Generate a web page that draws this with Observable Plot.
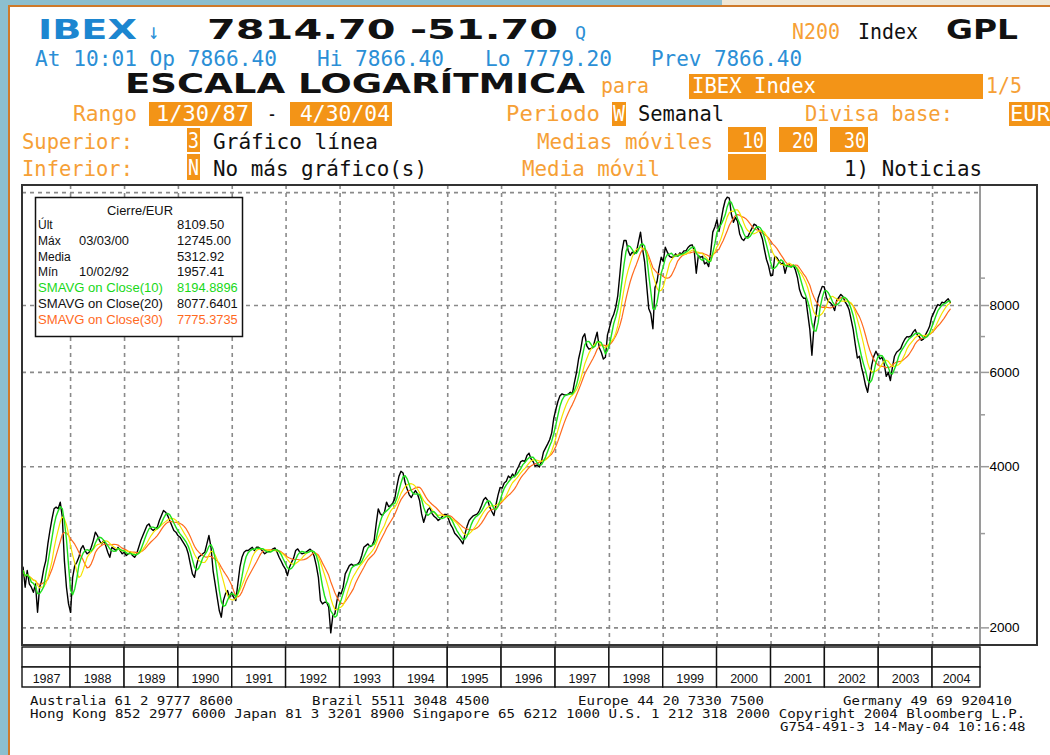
<!DOCTYPE html>
<html><head><meta charset="utf-8">
<script src="https://cdn.jsdelivr.net/npm/d3@7"></script>
<script src="https://cdn.jsdelivr.net/npm/@observablehq/plot@0.6"></script>
<style>
html,body{margin:0;padding:0;background:#fff;}
#page{position:relative;width:1050px;height:755px;overflow:hidden;background:#fff;}
.abs{position:absolute;}
</style></head>
<body><div id="page">
<div class="abs" style="left:0;top:0;width:722px;height:6px;background:#8cbfcf"></div>
<div class="abs" style="left:722px;top:0;width:328px;height:6px;background:#efe7d6"></div>
<div class="abs" style="left:0;top:0;width:8px;height:755px;background:#8cbfcf"></div>
<div class="abs" style="left:8px;top:5px;width:1042px;height:2px;background:#cf7a2a"></div>
<div class="abs" style="left:8px;top:5px;width:2px;height:750px;background:#cf7a2a"></div>
<div id="chart" class="abs" style="left:22px;top:185px"></div>
<div id="table" class="abs" style="left:22px;top:645px"></div>
<div class="abs" style="left:979px;top:185px;width:2px;height:461px;background:#9a9a9a"></div>
<div class="abs" style="left:21px;top:184px;width:1017px;height:462px;border:2px solid #333;box-sizing:border-box;pointer-events:none"></div>
<svg id="ov" class="abs" style="left:0;top:0;pointer-events:none" width="1050" height="755"></svg>
</div>
<script>
// ---------------- DATA ----------------
// Biweekly IBEX closes (EUR), first on 1987-01-30
const startDate = "1987-01-30";
const stepDays = 14;
const closeBiweekly = [
 // 1987
 2523,2596,2382,2559,2416,2382,2331,2416,2139,2382,2451,2578,2671,2870,3040,3196,3337,3361,3337,3434,3218,2671,2382,2217,2139,
 // 1988
 2486,2615,2651,2709,2809,2849,2789,2750,2769,2828,2911,3018,2975,2911,2870,2911,2849,2769,2709,2828,2809,2789,2828,2789,2750,2769,
 // 1989
 2730,2750,2769,2730,2709,2750,2828,2911,2975,3040,3106,3128,3062,3040,3062,3085,3173,3242,3313,3289,3242,3173,3106,3040,3018,2975,
 // 1990
 2954,2911,2870,2828,2750,2630,2523,2486,2615,2709,2730,2750,2769,2870,2975,2828,2559,2416,2280,2155,2094,2249,2315,2348,2280,2331,2280,
 // 1991
 2249,2416,2596,2709,2769,2789,2789,2809,2828,2789,2828,
 2828,2809,2781,2750,2769,2781,2789,2809,2820,2769,2710,2663,2614,2578,2505,
 // 1992
 2596,2651,2700,2789,2809,2769,2750,2758,2769,2789,2805,2781,2718,2614,2486,2249,2217,2233,2233,2186,1957,2109,2125,2249,2331,2315,
 // 1993
 2382,2523,2566,2614,2630,2614,2623,2630,2659,2730,2828,2849,2870,2837,2849,2911,3128,3337,3265,3242,3289,3434,3370,3385,3420,3487,
 // 1994
 3674,3837,3921,3893,3737,3633,3544,3503,3564,3610,3557,3459,3265,3150,3242,3323,3351,3273,3232,3209,3173,3196,3228,3256,3256,3196,
 // 1995
 3118,3073,3005,2975,2945,2911,2870,2996,3095,3173,3209,3238,3252,3265,3313,3385,3469,3503,3459,
 3361,3299,3242,3396,3539,3658,3647,
 // 1996
 3730,3758,3843,3810,3877,3832,3940,4008,4088,4107,4089,4198,4240,4136,4089,4008,4031,3996,4088,4258,4332,4408,4490,4627,4927,5115,
 // 1997
 5295,5425,5471,5448,5448,5463,5509,5471,5750,5996,6356,6611,6978,7082,6728,6631,6650,6679,6912,7133,6679,6543,6356,6403,7052,7284,
 // 1998
 7541,7694,7942,8350,9151,10091,10581,10581,10135,9921,10062,9990,10062,10504,10969,10209,9637,8711,7886,7718,7239,8638,8867,9410,9843,9666,
 // 1999
 10281,10062,9886,9843,9857,9990,9886,10033,9990,10120,10120,10267,10355,10385,10135,9191,9921,9843,9886,9566,9637,9456,10062,10969,11215,11556,11000,
 // 2000
 11531,12114,12567,12745,12690,11843,11447,11686,11487,10894,10662,10581,10739,10754,10969,11158,11352,11288,11128,10938,10662,10179,9750,9490,9111,9111,
 // 2001
 9886,9830,9690,9555,9610,9191,9515,9541,9456,9515,9326,9024,8570,8350,8254,8254,7718,7212,6460,7315,7694,8254,8475,8686,8662,8290,
 // 2002
 8138,8091,8000,7830,8174,8280,8392,8320,8138,8024,7857,7531,7212,6767,6385,6433,6136,5920,5671,5510,5852,6199,6433,6572,6456,6356,
 // 2003
 6403,6225,5900,5998,5794,6136,6433,6543,6592,6650,6802,6921,6998,6988,7019,7133,7214,7052,6998,6887,6921,7052,7171,7315,7606,7752,
 // 2004
 7908,8034,8000,8114,8091,8162,8233,8110
];
// moving-average windows (in biweekly samples) and colours: SMAVG 10 / 20 / 30
const smaWindows = [4, 8, 12];
const smaColors = ["#1fe01f", "#f5e400", "#ff6a1e"];
const years = d3.range(1987, 2005);
const xDomainDates = ["1987-02-09", "2004-11-21"];
const yDomain = [1846, 13404];
const yLabelTicks = [2000, 4000, 6000, 8000];
const yMinorTicks = [3000, 5000, 7000, 9000];
const gridValues = [2000, 4000, 6000, 8000, 13000];
const legendLabels = ["Últ", "Máx", "Media", "Mín", "SMAVG on Close(10)", "SMAVG on Close(20)", "SMAVG on Close(30)"];
const legendDates = ["", "03/03/00", "", "10/02/92", "", "", ""];
const legendValues = ["8109.50", "12745.00", "5312.92", "1957.41", "8194.8896", "8077.6401", "7775.3735"];
const legendColors = ["#111", "#111", "#111", "#111", "#19d819", "#111", "#ff6a1e"];
const footerLine1 = [["Australia 61 2 9777 8600", 30], ["Brazil 5511 3048 4500", 312], ["Europe 44 20 7330 7500", 578], ["Germany 49 69 920410", 843]];
const footerLine2 = "Hong Kong 852 2977 6000 Japan 81 3 3201 8900 Singapore 65 6212 1000 U.S. 1 212 318 2000 Copyright 2004 Bloomberg L.P.";
const footerLine3 = "G754-491-3 14-May-04 10:16:48";

// ---------------- CHART ----------------
const t0 = new Date(startDate + "T00:00:00Z");
const rows = closeBiweekly.map((c, i) => ({date: new Date(+t0 + i * stepDays * 864e5), close: c}));
const xDomain = xDomainDates.map(s => new Date(s + "T00:00:00Z"));
const yearStarts = years.slice(1).map(y => new Date(Date.UTC(y, 0, 1)));
const dash = {stroke: "#8a8a8a", strokeWidth: 1.6, strokeDasharray: "4,4"};

const chart = Plot.plot({
  width: 1016, height: 461,
  marginLeft: 0, marginRight: 58, marginTop: 0, marginBottom: 0,
  style: {fontFamily: "Liberation Sans, Arial, sans-serif", fontSize: "13.5px", background: "transparent", color: "#000"},
  x: {type: "utc", domain: xDomain, axis: null},
  y: {type: "log", domain: yDomain, axis: null},
  marks: [
    Plot.ruleY(gridValues, dash),
    Plot.ruleX(yearStarts, dash),
    Plot.line(rows, {x: "date", y: "close", stroke: "#000", strokeWidth: 1.4, clip: true}),
    Plot.line(rows, Plot.windowY({k: smaWindows[2], anchor: "end"}, {x: "date", y: "close", stroke: smaColors[2], strokeWidth: 1.2, clip: true})),
    Plot.line(rows, Plot.windowY({k: smaWindows[1], anchor: "end"}, {x: "date", y: "close", stroke: smaColors[1], strokeWidth: 1.2, clip: true})),
    Plot.line(rows, Plot.windowY({k: smaWindows[0], anchor: "end"}, {x: "date", y: "close", stroke: smaColors[0], strokeWidth: 1.4, clip: true})),
    Plot.axisY(yMinorTicks, {anchor: "right", tickSize: 4, tickFormat: () => "", stroke: "#9a9a9a", strokeWidth: 1.5, label: null}),
    Plot.axisY(yLabelTicks, {anchor: "right", tickSize: 8, tickPadding: 1, tickFormat: d3.format("d"), stroke: "#9a9a9a", strokeWidth: 1.5, fill: "#000", label: null})
  ]
});
document.getElementById("chart").append(chart);

// ---------------- YEAR TABLE ----------------
const cells = [];
years.forEach(y => {
  const a = new Date(Math.max(+new Date(Date.UTC(y, 0, 1)), +xDomain[0]));
  const b = new Date(Math.min(+new Date(Date.UTC(y + 1, 0, 1)), +xDomain[1]));
  cells.push({year: y, row: "blank", x1: a, x2: b, mid: new Date((+a + +b) / 2)});
  cells.push({year: y, row: "label", x1: a, x2: b, mid: new Date((+a + +b) / 2)});
});
const table = Plot.plot({
  width: 1016, height: 43,
  marginLeft: 0, marginRight: 58, marginTop: 1, marginBottom: 1,
  style: {fontFamily: "Liberation Sans, Arial, sans-serif", fontSize: "12.5px", background: "transparent", color: "#000", overflow: "visible"},
  x: {type: "utc", domain: xDomain, axis: null},
  y: {type: "band", domain: ["blank", "label"], padding: 0, axis: null},
  marks: [
    Plot.barX(cells, {x1: "x1", x2: "x2", y: "row", fill: "white", stroke: "#111", strokeWidth: 1.4, inset: 0}),
    Plot.text(cells.filter(d => d.row === "label"), {x: "mid", y: "row", text: d => String(d.year), fill: "#111", fontSize: 12.5, dy: 1})
  ]
});
document.getElementById("table").append(table);

// ---------------- HEADER, LEGEND, FOOTER ----------------
const ov = d3.select("#ov");
const BLUE = "#2b8fd6", IBLUE = "#1c86d0", OT = "#f6a036", OB = "#f39417", BLK = "#111";
function txt(x, y, s, o = {}) {
  const t = ov.append("text").attr("x", x).attr("y", y).text(s)
    .attr("font-family", o.fam || "DejaVu Sans Mono")
    .attr("font-size", o.size || 22)
    .attr("fill", o.fill || BLK);
  if (o.weight) t.attr("font-weight", o.weight);
  if (o.len) t.attr("textLength", o.len).attr("lengthAdjust", "spacingAndGlyphs");
  if (o.anchor) t.attr("text-anchor", o.anchor);
  return t;
}
function box(x1, y1, x2, y2, fill = OB) {
  ov.append("rect").attr("x", x1).attr("y", y1).attr("width", x2 - x1).attr("height", y2 - y1).attr("fill", fill);
}
const BOLD = {fam: "DejaVu Sans", weight: "bold", size: 26};
// line 1
txt(38, 39, "IBEX", {...BOLD, fill: IBLUE, len: 99});
txt(148, 39, "↓", {fill: BLUE, size: 22, len: 11});
txt(207, 39, "7814.70 -51.70", {...BOLD, fill: BLK, len: 351});
txt(575, 39, "Q", {fill: BLUE, size: 18, len: 11});
txt(792, 39, "N200", {fill: OT, len: 48});
txt(858, 39, "Index", {fill: BLK, len: 60});
txt(946, 39, "GPL", {...BOLD, fill: BLK, len: 72});
// line 2
txt(35, 66, "At 10:01 Op 7866.40", {fill: BLUE, len: 242});
txt(317, 66, "Hi 7866.40", {fill: BLUE, len: 127});
txt(485, 66, "Lo 7779.20", {fill: BLUE, len: 127});
txt(651, 66, "Prev 7866.40", {fill: BLUE, len: 151});
// line 3
txt(125, 93, "ESCALA LOGARÍTMICA", {...BOLD, fill: BLK, len: 460});
txt(601, 93, "para", {fill: OT, len: 48});
box(689, 74, 983, 99);
txt(692, 93, "IBEX Index", {fill: "#fff", len: 124});
txt(986, 93, "1/5", {fill: OT, len: 36});
// line 4
txt(73, 121, "Rango", {fill: OT, len: 64});
box(149, 102, 252, 126); txt(156, 121, "1/30/87", {fill: "#fff", len: 93});
txt(267, 121, "-", {fill: BLK, len: 10});
box(290, 102, 392, 126); txt(300, 121, "4/30/04", {fill: "#fff", len: 90});
txt(506, 121, "Periodo", {fill: OT, len: 94});
box(612, 102, 626, 126); txt(613, 121, "W", {fill: "#fff", len: 12});
txt(638, 121, "Semanal", {fill: BLK, len: 86});
txt(805, 121, "Divisa base:", {fill: OT, len: 148});
box(1009, 102, 1050, 126); txt(1010, 121, "EUR", {fill: "#fff", len: 40});
// line 5
txt(22, 149, "Superior:", {fill: OT, len: 111});
box(187, 128, 200, 152); txt(188, 148, "3", {fill: "#fff", len: 11});
txt(213, 149, "Gráfico línea", {fill: BLK, len: 165});
txt(537, 149, "Medias móviles", {fill: OT, len: 176});
box(728, 127, 766, 152); txt(742, 148, "10", {fill: "#fff", len: 22});
box(779, 127, 817, 152); txt(792, 148, "20", {fill: "#fff", len: 22});
box(830, 127, 868, 152); txt(844, 148, "30", {fill: "#fff", len: 22});
// line 6
txt(22, 176, "Inferior:", {fill: OT, len: 111});
box(187, 154, 200, 180); txt(188, 175, "N", {fill: "#fff", len: 11});
txt(213, 176, "No más gráfico(s)", {fill: BLK, len: 214});
txt(522, 176, "Media móvil", {fill: OT, len: 138});
box(728, 154, 766, 180);
txt(844, 176, "1) Noticias", {fill: BLK, len: 138});

// legend box
ov.append("rect").attr("x", 35.5).attr("y", 197.5).attr("width", 207).attr("height", 139)
  .attr("fill", "#fff").attr("stroke", "#111").attr("stroke-width", 1.5);
const LF = {fam: "Liberation Sans, Arial, sans-serif", size: 12};
txt(107, 215, "Cierre/EUR", {...LF, len: 66});
const legendBase = [229, 245, 261, 276, 292, 308, 324];
legendLabels.forEach((lab, i) => {
  const o = {...LF, fill: legendColors[i]};
  if (lab.length > 10) o.len = 125;
  txt(38, legendBase[i], lab, o);
  if (legendDates[i]) txt(79, legendBase[i], legendDates[i], {...LF, fill: legendColors[i], len: 50});
  txt(177, legendBase[i], legendValues[i], {...LF, fill: legendColors[i], len: legendValues[i].length * 6.75});
});

// footer
const CW = 8.52;
const FF = {fam: "DejaVu Sans Mono", size: 11.5, fill: "#111"};
footerLine1.forEach(([s, x]) => txt(x, 705, s, {...FF, len: s.length * CW - 1.5}));
txt(30, 718, footerLine2, {...FF, len: footerLine2.length * CW - 1.5});
txt(780, 731, footerLine3, {...FF, len: footerLine3.length * CW - 1.5});
</script>
</body></html>
